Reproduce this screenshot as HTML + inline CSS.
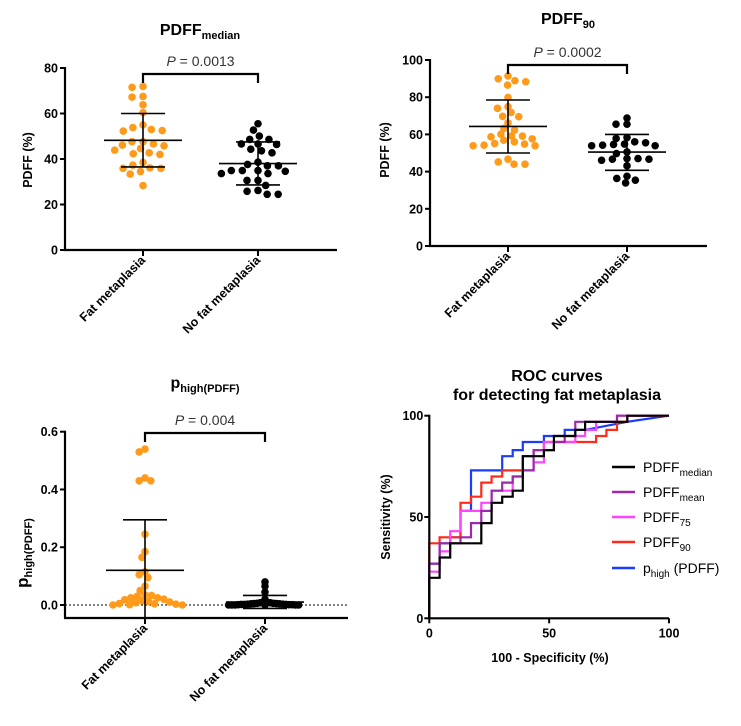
<!DOCTYPE html>
<html><head><meta charset="utf-8">
<style>
html,body{margin:0;padding:0;background:#fff;}
svg{display:block;font-family:"Liberation Sans",Arial,sans-serif;}
.tk{font-size:12.5px;font-weight:bold;}
.ttl{font-size:16px;font-weight:bold;}
</style></head>
<body>
<svg id="fig" width="741" height="726" viewBox="0 0 741 726" xmlns="http://www.w3.org/2000/svg"></svg>
<script>
// Panel A: PDFF median
const aFat = [71.5,71.9,67.2,67.5,63.8,60.4,55,53,52.3,52.5,53.8,46.1,44.6,47.6,47.6,45.8,46.6,42.7,42,43.9,42.3,38.5,37.3,35.9,34.5,33.4,35.9,36.1,28.3];
const aNo = [50.1,48.6,48.6,52.7,55.5,46.6,46.6,46.4,43.6,42.7,44.3,38.6,37.6,37,37,34.9,33.6,33.6,34.9,34.9,34.6,28.4,25.8,24.5,24.5,26.2,30.6,30.6];
const aStats = [[48.2,60,36.5],[38,47.5,28.6]];
const aTicks = [0,20,40,60,80];
// Panel B: PDFF 90
const bFat = [91.4,88.9,86.5,88.3,89.9,79.9,74,71.8,74.9,69.5,69.7,63.2,66.2,62.3,60.1,59.2,57.6,56,54.8,53.9,53.9,54.2,55.1,56.9,58.7,59.1,45.2,44,44,46.7];
const bNo = [68.8,65.5,65.5,55.5,54.6,53.9,57.8,56,47,46.7,47,43.1,46.1,46.7,54.2,54.8,49.7,50.6,36.3,33.9,35.4,37.5,53.9,58.3];
const bStats = [[64.3,78.5,50],[50.5,60,40.7]];
const bTicks = [0,20,40,60,80,100];
// Panel C: p_high
const cFat = [0.53,0.54,0.43,0.43,0.44,0.245,0.185,0.165,0.115,0.105,0.095,0.065,0.05,0.035,0.03,0.025,0.02,0.015,0.01,0.005,0.003,0,0,0.001,0.004,0.008,0.012,0.018,0.025,0.033];
const cNo = [0.065,0.08,0.045,0.02,0.01,0.008,0.006,0.005,0.004,0.003,0.002,0.002,0.001,0.001,0,0,0,0,0,0,0.001,0.002,0.003,0.004,0.005,0.006,0.008,0.01];
const cStats = [[0.12,0.295,-0.05],[0.01,0.033,-0.012]];
const cTicks = [0,0.2,0.4,0.6];
// Panel D: ROC
const rocNames = ["PDFF_median","PDFF_mean","PDFF_75","PDFF_90","p_high"];
const rocBlackX = [0,0,4.3,4.3,8.7,8.7,21.7,21.7,26,26,30.4,30.4,34.8,34.8,39,39,47.8,47.8,52,52,60.9,60.9,65,65,82.6,82.6,100];
const rocBlackY = [0,20,20,30,30,37,37,47,47,57,57,60,60,63,63,80,80,83,83,90,90,93,93,97,97,100,100];
const rocPurpleX = [0,0,4.3,4.3,13,13,17.4,17.4,21.7,21.7,26,26,30.4,30.4,34.8,34.8,39,39,43.5,43.5,52,52,56.5,56.5,60.9,60.9,78.3,78.3,100];
const rocPurpleY = [0,27,27,37,37,40,40,47,47,53,53,63,63,67,67,70,70,73,73,83,83,87,87,90,90,97,97,100,100];
const rocMagX = [0,0,4.3,4.3,8.7,8.7,13,13,21.7,21.7,26,26,34.8,34.8,39,39,43.5,43.5,47.8,47.8,60.9,60.9,65,65,69.6,69.6,78.3,78.3,100];
const rocMagY = [0,23,23,33,33,43,43,53,53,57,57,63,63,70,70,73,73,77,77,87,87,90,90,93,93,97,97,100,100];
const rocRedX = [0,0,4.3,4.3,13,13,17.4,17.4,21.7,21.7,26,26,30.4,30.4,39,39,43.5,43.5,47.8,47.8,69.6,69.6,73.9,73.9,78.3,78.3,82.6,82.6,100];
const rocRedY = [0,37,37,40,40,57,57,60,60,67,67,70,70,73,73,80,80,83,83,87,87,90,90,93,93,97,97,100,100];
const rocBlueX = [0,0,4.3,4.3,8.7,8.7,13,13,17.4,17.4,30.4,30.4,34.8,34.8,39,39,47.8,47.8,56.5,56.5,65,82.6,100];
const rocBlueY = [0,27,27,37,37,40,40,53,53,73,73,80,80,83,83,87,87,90,90,93,93,97,100];
const rocTicks = [0,50,100];

const NS="http://www.w3.org/2000/svg";
const svg=document.getElementById('fig');
function mk(tag,attrs,parent,text){const e=document.createElementNS(NS,tag);for(const k in attrs)e.setAttribute(k,attrs[k]);if(text!==undefined)e.textContent=text;(parent||svg).appendChild(e);return e;}

function swarm(vals,ys,d,vd){
  const placed=[];const order=vals.map((v,i)=>i).sort((a,b)=>vals[b]-vals[a]);
  const xs=new Array(vals.length).fill(0);
  order.forEach(i=>{
    const y=ys(vals[i]);const cands=[0];const ints=[];
    placed.forEach(p=>{const dy=Math.abs(p.y-y)*d/vd;if(dy<d){const w=Math.sqrt(d*d-dy*dy);ints.push([p.x-w,p.x+w]);cands.push(p.x-w,p.x+w);}});
    cands.sort((a,b)=>Math.abs(a)-Math.abs(b));
    let best=0;for(const c of cands){if(ints.every(t=>c<=t[0]+1e-6||c>=t[1]-1e-6)){best=c;break;}}
    xs[i]=best;placed.push({x:best,y:y});
  });
  return xs;
}

function dotPanel(o){
  const g=mk('g',{});
  
  
  const ys=v=>o.y0+(o.y1-o.y0)*(v-o.vmin)/(o.vmax-o.vmin);
  const t=mk('text',{x:o.tx,y:o.ty,'text-anchor':'middle',class:'ttl'},g);
  
  mk('tspan',{},t,o.title);mk('tspan',{'font-size':'11px',dy:'4'},t,o.sub);
  mk('line',{x1:o.ax,y1:ys(o.vmax)-1,x2:o.ax,y2:o.axisY,stroke:'#000','stroke-width':2.2},g);
  mk('line',{x1:o.ax-1,y1:o.axisY,x2:o.axEnd,y2:o.axisY,stroke:'#000','stroke-width':2.2},g);
  o.ticks.forEach(v=>{const y=ys(v);mk('line',{x1:o.ax-5,y1:y,x2:o.ax,y2:y,stroke:'#000','stroke-width':2},g);
    const tl=mk('text',{x:o.ax-7,y:y+4.5,'text-anchor':'end',class:'tk'},g,o.fmt(v));
    });
  const yt=mk('text',{transform:`translate(${o.ytx},${o.yty}) rotate(-90)`,'text-anchor':'middle',class:'tk','font-size':'14px'},g);
  
  if(o.ysub){mk('tspan',{'font-size':'17px'},yt,o.ytitle);mk('tspan',{'font-size':'11px',dy:'4'},yt,o.ysub);}else{yt.textContent=o.ytitle;}
  if(o.zeroLine)mk('line',{x1:o.ax,y1:ys(0),x2:o.axEnd,y2:ys(0),stroke:'#000','stroke-width':1,'stroke-dasharray':'2,2'},g);
  const cats=[["Fat metaplasia",o.fat,'#ff9a1a',o.cx[0],o.stats[0],o.d[0]],["No fat metaplasia",o.no,'#000',o.cx[1],o.stats[1],o.d[1]]];
  cats.forEach((c,ci)=>{
    mk('line',{x1:c[3],y1:o.axisY,x2:c[3],y2:o.axisY+6,stroke:'#000','stroke-width':2},g);
    const lb=mk('text',{transform:`translate(${c[3]+3},${o.axisY+11}) rotate(-45)`,'text-anchor':'end',class:'tk'},g,c[0]);
    
    const xs=swarm(c[1],ys,c[5],o.vd[ci]);
    c[1].forEach((v,i)=>{const dot=mk('circle',{cx:c[3]+xs[i],cy:ys(v),r:3.8,fill:c[2]},g);
      });
    const s=c[4];
    mk('line',{x1:c[3],y1:ys(s[1]),x2:c[3],y2:Math.min(ys(s[2]),o.axisY),stroke:'#000','stroke-width':1.6},g);
    mk('line',{x1:c[3]-39,y1:ys(s[0]),x2:c[3]+39,y2:ys(s[0]),stroke:'#000','stroke-width':1.6},g);
    mk('line',{x1:c[3]-22,y1:ys(s[1]),x2:c[3]+22,y2:ys(s[1]),stroke:'#000','stroke-width':1.6},g);
    if(ys(s[2])<o.axisY)mk('line',{x1:c[3]-22,y1:ys(s[2]),x2:c[3]+22,y2:ys(s[2]),stroke:'#000','stroke-width':1.6},g);
  });
  const br=mk('path',{d:`M${o.cx[0]},${o.by+9} V${o.by} H${o.cx[1]} V${o.by+9}`,fill:'none',stroke:'#000','stroke-width':2.2},g);
  
  const pt=mk('text',{x:(o.cx[0]+o.cx[1])/2,y:o.by-8,'text-anchor':'middle','font-size':'14px',fill:'#333'},g);
  
  mk('tspan',{'font-style':'italic'},pt,'P');mk('tspan',{},pt,' = '+o.p);
}

dotPanel({name:'panel-pdff-median',title:'PDFF',sub:'median',tx:200,ty:35,ax:65,axEnd:337,axisY:250,y0:250,y1:68,vmin:0,vmax:80,ticks:aTicks,fmt:v=>String(v),
  ytitle:'PDFF (%)',ytx:32,yty:160,cx:[143,258],fat:aFat,no:aNo,stats:aStats,d:[11,11],vd:[7,7],by:74,p:'0.0013'});
dotPanel({name:'panel-pdff-90',title:'PDFF',sub:'90',tx:568,ty:24,ax:430,axEnd:707,axisY:246,y0:246,y1:60,vmin:0,vmax:100,ticks:bTicks,fmt:v=>String(v),
  ytitle:'PDFF (%)',ytx:389,yty:150,cx:[508,627],fat:bFat,no:bNo,stats:bStats,d:[11,11],vd:[6,6],by:65,p:'0.0002'});
dotPanel({name:'panel-p-high',title:'p',sub:'high(PDFF)',tx:205,ty:388,ax:65,axEnd:348,axisY:618,y0:605,y1:431.7,vmin:0,vmax:0.6,ticks:cTicks,fmt:v=>v.toFixed(1),
  ytitle:'p',ysub:'high(PDFF)',ytx:28,yty:553,cx:[145,265],fat:cFat,no:cNo,stats:cStats,d:[6.5,3.2],vd:[6.5,3.2],by:433,p:'0.004',zeroLine:true});

(function(){
  const g=mk('g',{});
  
  
  const X=v=>429.3+(669-429.3)*v/100, Y=v=>618.3-(618.3-415.7)*v/100;
  const t1=mk('text',{x:557,y:381,'text-anchor':'middle',class:'ttl'},g,'ROC curves');
  
  const t2=mk('text',{x:557,y:400,'text-anchor':'middle',class:'ttl'},g,'for detecting fat metaplasia');
  
  const series=[[rocBlueX,rocBlueY,'#1a3cff'],[rocRedX,rocRedY,'#ff2a1a'],[rocMagX,rocMagY,'#ff44ff'],[rocPurpleX,rocPurpleY,'#9a2aa8'],[rocBlackX,rocBlackY,'#000']];
  series.forEach((s,si)=>{const d=s[0].map((x,i)=>(i?'L':'M')+X(x).toFixed(1)+','+Y(s[1][i]).toFixed(1)).join(' ');
    const p=mk('path',{d:d,fill:'none',stroke:s[2],'stroke-width':2.2},g);
    });
  mk('line',{x1:X(0),y1:Y(100)-1,x2:X(0),y2:Y(0),stroke:'#000','stroke-width':2.2},g);
  mk('line',{x1:X(0)-1,y1:Y(0),x2:X(100),y2:Y(0),stroke:'#000','stroke-width':2.2},g);
  rocTicks.forEach(v=>{
    mk('line',{x1:X(0)-5,y1:Y(v),x2:X(0),y2:Y(v),stroke:'#000','stroke-width':2},g);
    const a=mk('text',{x:X(0)-6,y:Y(v)+4.5,'text-anchor':'end',class:'tk'},g,String(v));
    
    mk('line',{x1:X(v),y1:Y(0),x2:X(v),y2:Y(0)+5,stroke:'#000','stroke-width':2},g);
    const b=mk('text',{x:X(v),y:Y(0)+19,'text-anchor':'middle',class:'tk'},g,String(v));
    
  });
  const xt=mk('text',{x:550,y:662,'text-anchor':'middle',class:'tk','font-size':'13.5px'},g,'100 - Specificity (%)');
  
  const yt=mk('text',{transform:'translate(390,517) rotate(-90)','text-anchor':'middle',class:'tk','font-size':'13.5px'},g,'Sensitivity (%)');
  
  const leg=[['PDFF','median','#000'],['PDFF','mean','#9a2aa8'],['PDFF','75','#ff44ff'],['PDFF','90','#ff2a1a'],['p','high',' (PDFF)','#1a3cff']];
  const ly=[467,492,517,542,568];
  leg.forEach((l,i)=>{
    const col=l[l.length-1];
    const e=mk('g',{},g);
    
    mk('line',{x1:612,y1:ly[i],x2:635,y2:ly[i],stroke:col,'stroke-width':2.5},e);
    const tx=mk('text',{x:643,y:ly[i]+5,'font-size':'14px'},e);
    mk('tspan',{},tx,l[0]);mk('tspan',{'font-size':'10px',dy:'4'},tx,l[1]);
    if(l.length===4)mk('tspan',{dy:'-4'},tx,l[2]);
  });
})();
</script>
</body></html>
